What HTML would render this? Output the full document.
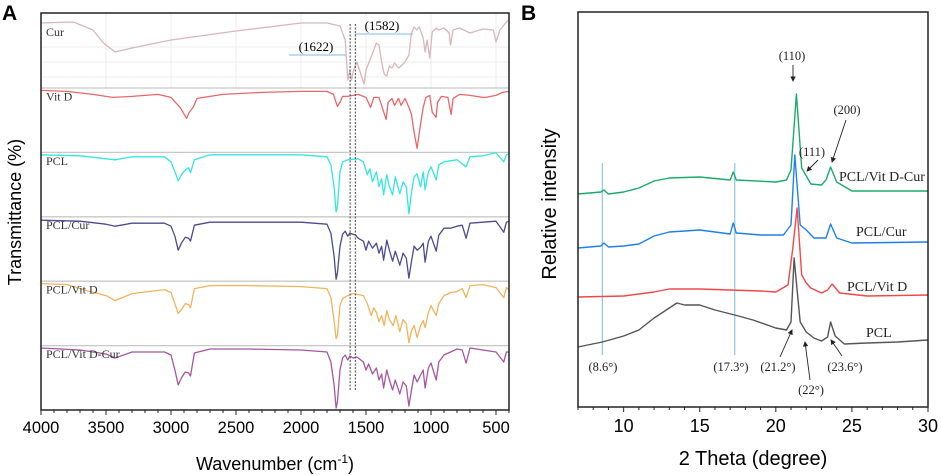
<!DOCTYPE html>
<html><head><meta charset="utf-8">
<style>
html,body{margin:0;padding:0;background:#fff;}
svg{display:block;}
.ser{font-family:"Liberation Serif",serif;}
.san{font-family:"Liberation Sans",sans-serif;}
</style></head>
<body>
<svg id="fig" width="941" height="475" viewBox="0 0 941 475" xmlns="http://www.w3.org/2000/svg">
<text x="2" y="20" class="san" font-size="21" font-weight="bold">A</text>
<text x="521" y="20" class="san" font-size="21" font-weight="bold">B</text>
<g id="pa"></g>
<g id="pb"></g>
<text x="275" y="470" text-anchor="middle" class="san" font-size="18">Wavenumber (cm<tspan dy="-7" font-size="12">-1</tspan><tspan dy="7">)</tspan></text>
<text transform="translate(21,212) rotate(-90)" text-anchor="middle" class="san" font-size="18">Transmittance (%)</text>
<text x="753" y="465" text-anchor="middle" class="san" font-size="20">2 Theta (degree)</text>
<text transform="translate(556,204) rotate(-90)" text-anchor="middle" class="san" font-size="20">Relative intensity</text>
</svg>
<script>
// ---------- FTIR data (panel A) ----------
const ftirNames = ["Cur","Vit D","PCL","PCL/Cur","PCL/Vit D","PCL/Vit D-Cur"];
const ftirColors = ["#d8b6ba","#e8676a","#35e6de","#4b4b8f","#f0b45c","#a3579f"];
const curWn = [4000,3750,3600,3520,3430,3300,3000,2500,2000,1800,1700,1660,1640,1625,1612,1595,1570,1550,1530,1515,1500,1470,1440,1420,1400,1380,1360,1340,1320,1300,1280,1250,1230,1200,1170,1150,1130,1110,1090,1060,1045,1030,1010,990,960,940,900,860,850,830,780,700,600,520,500,470,420,400];
const curT = [65,66,58,45,36,40,48,57,65,65,62,48,8,18,8,18,26,18,10,4,18,28,38,45,43,26,14,12,22,20,25,20,22,26,33,55,61,58,61,50,36,48,30,56,60,58,60,55,43,58,60,55,59,58,46,58,66,68];
const vitWn = [4000,3800,3600,3450,3300,3100,3000,2930,2880,2860,2830,2800,2600,2300,2000,1800,1750,1720,1700,1680,1640,1600,1560,1500,1465,1440,1400,1345,1330,1300,1280,1250,1230,1200,1170,1150,1130,1107,1090,1060,1040,1010,990,961,950,920,870,845,830,780,700,600,580,500,450,400];
const vitT = [62,61,58,55,56,58,55,45,34,40,45,54,58,60,61,61,58,46,50,56,56,57,58,55,45,55,55,33,50,54,47,54,47,54,45,38,20,4,20,45,55,57,40,35,50,56,55,38,54,58,57,55,55,57,60,61];
const pclWn = [4000,3700,3500,3430,3300,3050,3000,2970,2945,2920,2890,2865,2850,2820,2700,2400,2000,1800,1770,1745,1730,1720,1700,1680,1640,1560,1520,1490,1470,1450,1420,1400,1380,1365,1340,1320,1295,1275,1240,1215,1190,1170,1150,1130,1107,1080,1060,1045,1020,1000,960,940,900,850,800,730,700,600,500,440,420,400];
const pclT = [62,61,58,57,60,60,55,45,36,42,47,49,44,57,62,62,62,60,52,30,5,10,45,55,57,58,55,42,48,35,45,30,38,22,42,30,22,40,23,35,30,3,25,40,43,30,45,27,45,50,37,52,55,56,57,50,60,61,64,55,62,63];
const pclCurWn = [4000,3700,3500,3430,3300,3050,3000,2970,2945,2920,2890,2865,2850,2820,2700,2400,2000,1800,1770,1745,1730,1720,1700,1680,1660,1640,1625,1600,1580,1560,1520,1500,1480,1450,1420,1400,1380,1365,1340,1320,1295,1275,1240,1215,1190,1170,1150,1130,1107,1080,1060,1045,1020,1000,960,940,900,850,800,760,730,700,600,500,440,420,400];
const pclCurT = [61,60,57,55,58,58,55,45,31,38,44,43,40,56,59,59,59,57,48,25,2,8,35,47,50,45,48,47,46,43,40,31,40,33,38,28,35,21,41,31,20,30,16,28,23,3,20,35,31,34,38,19,40,45,30,46,53,53,55,56,43,58,59,60,49,59,60];
const pclVitWn = [4000,3800,3650,3500,3430,3300,3050,3000,2970,2945,2920,2890,2865,2850,2820,2700,2400,2000,1800,1770,1745,1730,1720,1700,1680,1640,1600,1560,1520,1490,1460,1440,1420,1400,1380,1360,1340,1320,1290,1270,1240,1215,1190,1170,1150,1130,1107,1080,1060,1045,1020,1000,960,940,900,850,800,760,730,700,600,500,440,420,400];
const pclVitT = [62,61,55,50,45,52,56,53,42,32,36,42,41,38,57,60,60,59,57,48,25,7,10,40,47,50,52,51,50,42,30,38,33,24,30,20,35,26,20,30,14,26,22,3,15,20,8,20,25,18,33,40,30,42,50,53,54,57,48,60,61,58,48,58,56];
const allWn = [4000,3700,3500,3430,3300,3050,3000,2970,2945,2920,2890,2865,2850,2820,2700,2400,2000,1800,1770,1745,1730,1720,1700,1680,1660,1640,1625,1600,1570,1520,1500,1480,1450,1420,1400,1380,1365,1340,1320,1295,1275,1240,1215,1190,1170,1150,1130,1107,1080,1060,1045,1020,1000,960,940,900,850,800,760,730,700,600,500,440,420,400];
const allT = [62,60,56,52,58,58,55,40,25,32,38,37,34,57,61,61,60,58,48,25,2,8,40,52,55,50,54,52,53,48,40,46,36,42,30,36,22,40,30,20,30,16,28,24,4,20,35,28,35,40,22,42,47,30,48,55,58,61,60,47,62,60,58,48,58,58];
const ftirWn = [curWn,vitWn,pclWn,pclCurWn,pclVitWn,allWn];
const ftirT = [curT,vitT,pclT,pclCurT,pclVitT,allT];
const wnTicks = [4000,3500,3000,2500,2000,1500,1000,500];
const markWn = [1622,1582];

// ---------- XRD data (panel B) ----------
const xrdNames = ["PCL","PCL/Vit D","PCL/Cur","PCL/Vit D-Cur"];
const xrdColors = ["#555555","#f04848","#1f80e8","#1aab6c"];
const pclTheta = [7,8.6,10,11,12,13,13.5,14,15,16,17.3,18.5,20,20.7,21.0,21.2,21.4,21.6,22,22.5,23,23.4,23.6,23.9,24.5,26,28,30];
const pclI = [60,65,71,77,89,99,104,102,102,97,92,87,79,77,85,149,117,85,75,69,66,70,85,71,63,64,65,67];
const vitTheta = [7,10,11,12,13,15,17,19,20,20.8,21.1,21.4,21.7,22,22.3,23,23.4,23.7,24.2,26,30];
const vitI = [110,111,113,115,118,118,117,116,115,122,157,199,132,124,119,114,117,123,114,111,112];
const curTheta = [7,8.5,8.7,9,10,11,12,13,15,17,17.2,17.4,19,20.5,21,21.25,21.6,22,22.5,23.3,23.6,24,25,30];
const curI = [159,161,164,160,161,163,171,175,177,173,184,174,172,172,182,252,182,177,169,169,183,169,164,165];
const allTheta = [7,8.5,8.7,9,10,11,12,13,15,17,17.2,17.4,20,20.7,21.0,21.35,21.7,22,22.3,23,23.3,23.6,24,25,30];
const allI = [213,215,217,213,215,219,226,229,230,227,235,227,225,227,237,313,239,231,223,222,227,240,225,216,216];
const xrdTheta = [pclTheta,vitTheta,curTheta,allTheta];
const xrdI = [pclI,vitI,curI,allI];
const thetaTicks = [10,15,20,25,30];
const refTheta = [8.6,17.3];

const NS = "http://www.w3.org/2000/svg";
function mk(parent, tag, attrs, txt){
  const e = document.createElementNS(NS, tag);
  for (const k in attrs) e.setAttribute(k, attrs[k]);
  if (txt !== undefined) e.textContent = txt;
  parent.appendChild(e);
  return e;
}

// ---- Panel A ----
const A = {l:41, r:509, t:13, b:410};
const xA = wn => A.l + (4000 - wn) * (A.r - A.l) / 3600;
const yA = (T, k) => A.b - k * 64.4 - T;
const pa = document.getElementById('pa');
for (const w of wnTicks){
  const g = mk(pa,'line',{x1:xA(w),x2:xA(w),y1:A.t,y2:88,stroke:'#ececec','stroke-width':1});
  
  
}
for (const yy of [47,62,77]){
  const g = mk(pa,'line',{x1:A.l,x2:A.r,y1:yy,y2:yy,stroke:'#ececec','stroke-width':1});
  
  
}
for (let k=1;k<=5;k++){
  const s = mk(pa,'line',{x1:A.l,x2:A.r,y1:A.b-k*64.4,y2:A.b-k*64.4,stroke:'#c8c8c8','stroke-width':1.3});
  
  
}
ftirNames.forEach((nm,i)=>{
  const k = 5 - i;
  const pts = ftirWn[i].map((w,j)=>xA(w).toFixed(1)+','+yA(ftirT[i][j],k).toFixed(1)).join(' ');
  const p = mk(pa,'polyline',{points:pts,fill:'none',stroke:ftirColors[i],'stroke-width':1.3,'stroke-linejoin':'round'});
  
  
  const lb = mk(pa,'text',{x:46,y:A.b-k*64.4-52,'font-size':12,'class':'ser',fill:'#333'},nm);
  
  
});
markWn.forEach(w=>{
  const l = mk(pa,'line',{x1:xA(w),x2:xA(w),y1:24,y2:391,stroke:'#444','stroke-width':1,'stroke-dasharray':'2,1.5'});
  
  
});
let t1 = mk(pa,'line',{x1:289,x2:346,y1:55,y2:55,stroke:'#7fb9e0','stroke-width':1});


let t2 = mk(pa,'line',{x1:355,x2:413,y1:34,y2:34,stroke:'#7fb9e0','stroke-width':1});


let a1 = mk(pa,'text',{x:316,y:51,'font-size':13,'text-anchor':'middle','class':'ser'},'(1622)');


let a2 = mk(pa,'text',{x:382,y:30,'font-size':13,'text-anchor':'middle','class':'ser'},'(1582)');


let fa = mk(pa,'rect',{x:A.l,y:A.t,width:A.r-A.l,height:A.b-A.t,fill:'none',stroke:'#222','stroke-width':1.5});


for (let w=4000; w>=400; w-=100){
  const major = w%500===0;
  const tk = mk(pa,'line',{x1:xA(w),x2:xA(w),y1:A.b,y2:A.b+(major?5:3),stroke:'#222','stroke-width':1});
  
  
}
wnTicks.forEach(w=>{
  const tl = mk(pa,'text',{x:xA(w),y:433,'font-size':16.5,'text-anchor':'middle','class':'san'},String(w));
  
  
});

// ---- Panel B ----
const B = {l:578, r:928, t:12, b:407};
const xB = t => B.l + (t - 7) * (B.r - B.l) / 23;
const yB = I => B.b - I;
const pb = document.getElementById('pb');
refTheta.forEach(t=>{
  const l = mk(pb,'line',{x1:xB(t),x2:xB(t),y1:163,y2:355,stroke:'#8cc6e6','stroke-width':1.2});
  
  
});
xrdNames.forEach((nm,i)=>{
  const pts = xrdTheta[i].map((t,j)=>xB(t).toFixed(1)+','+yB(xrdI[i][j]).toFixed(1)).join(' ');
  const p = mk(pb,'polyline',{points:pts,fill:'none',stroke:xrdColors[i],'stroke-width':1.4,'stroke-linejoin':'round'});
  
  
});
const labs = [["PCL/Vit D-Cur",839,181,'series-label-pcl-vit-d-cur'],["PCL/Cur",856,236,'series-label-pcl-cur'],["PCL/Vit D",847,291,'series-label-pcl-vit-d'],["PCL",866,337,'series-label-pcl'],
 ["(8.6°)",603,371,'peak-label-8-6'],["(17.3°)",731,371,'peak-label-17-3'],["(21.2°)",778,371,'peak-label-21-2'],["(22°)",811,394,'peak-label-22'],["(23.6°)",845,371,'peak-label-23-6'],
 ["(110)",792,60,'plane-label-110'],["(111)",812,156,'plane-label-111'],["(200)",847,114,'plane-label-200']];
labs.forEach(([s,x,y,n])=>{
  const anchor = n.startsWith('series') ? 'start' : 'middle';
  const e = mk(pb,'text',{x:x,y:y,'font-size':n.startsWith('series')?14:12.5,'text-anchor':anchor,'class':'ser',fill:'#222'},s);
  
  
});
mk(pb,'defs',{}).innerHTML='<marker id="ah" markerWidth="6" markerHeight="6" refX="5" refY="3" orient="auto"><path d="M0,0 L6,3 L0,6 z" fill="#222"/></marker>';
const arrows = [[793,65,793,81,'arrow-110'],[818,160,807,171,'arrow-111'],[846,120,832,162,'arrow-200'],[780,357,792,330,'arrow-21-2'],[810,380,805,342,'arrow-22'],[842,356,831,340,'arrow-23-6']];
arrows.forEach(([x1,y1,x2,y2,n])=>{
  const e = mk(pb,'line',{x1:x1,y1:y1,x2:x2,y2:y2,stroke:'#222','stroke-width':0.9,'marker-end':'url(#ah)'});
  
  
});
let fb = mk(pb,'rect',{x:B.l,y:B.t,width:B.r-B.l,height:B.b-B.t,fill:'none',stroke:'#222','stroke-width':1.5});


for (let t=7; t<=30; t++){
  const major = t%5===0;
  const tk = mk(pb,'line',{x1:xB(t),x2:xB(t),y1:B.b,y2:B.b+(major?5:3),stroke:'#222','stroke-width':1});
  
  
}
thetaTicks.forEach(t=>{
  const tl = mk(pb,'text',{x:xB(t),y:432,'font-size':18,'text-anchor':'middle','class':'san'},String(t));
  
  
});
</script>
</body></html>
